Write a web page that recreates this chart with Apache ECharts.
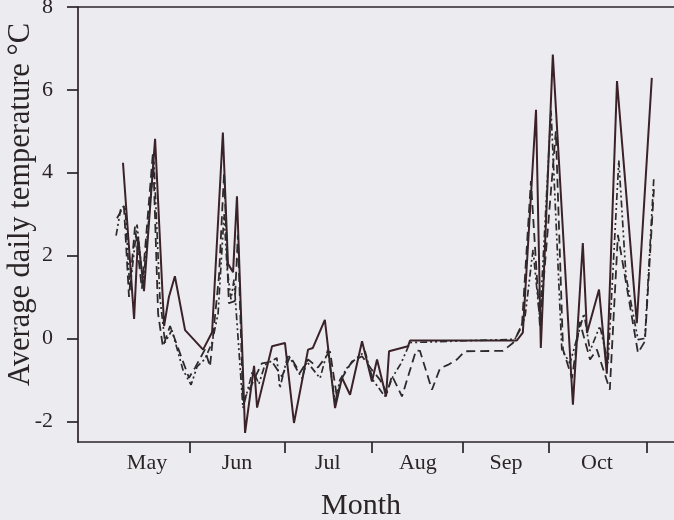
<!DOCTYPE html>
<html>
<head>
<meta charset="utf-8">
<script src="https://cdn.jsdelivr.net/npm/echarts@6/dist/echarts.min.js"></script>
<style>
html,body{margin:0;padding:0;background:#ececf0;}
#chart{width:674px;height:520px;}
</style>
</head>
<body>
<div id="chart"></div>
<script>
// x values: days since start of the plotted season
const monthNames = ['May','Jun','Jul','Aug','Sep','Oct'];
const monthCenters = [23, 53, 83.3, 113.3, 142.7, 173];
const monthBoundaries = [37.3, 69, 98, 128.3, 157, 189.7];
const yTicks = [-2, 0, 2, 4, 6, 8];

const solidDays = [15.0,18.7,20.0,22.0,25.7,28.7,30.3,32.3,35.7,41.7,44.7,48.3,50.0,51.7,53.0,55.7,58.7,59.7,64.7,69.0,72.0,76.7,78.3,82.3,85.7,88.0,90.7,94.7,98.0,99.7,102.7,103.7,110.0,110.7,146.3,148.3,152.7,154.3,158.3,165.0,168.3,169.7,173.7,176.3,179.7,186.3,191.3];
const solidTemps = [4.24,0.47,2.45,1.14,4.82,0.30,1.00,1.50,0.20,-0.27,0.15,4.97,1.80,1.60,3.43,-2.28,-0.66,-1.67,-0.19,-0.11,-2.04,-0.27,-0.23,0.45,-1.68,-0.95,-1.36,-0.07,-1.04,-0.51,-1.40,-0.31,-0.19,-0.05,-0.05,0.14,5.52,-0.23,6.85,-1.60,2.30,0.13,1.18,-0.85,6.21,0.37,6.29];

const dashDays = [13.0,15.3,17.0,19.0,21.3,25.0,26.7,28.3,30.7,34.7,37.0,39.0,42.3,44.0,47.0,48.7,50.0,50.3,52.3,53.3,55.0,56.7,59.3,61.3,64.7,68.0,70.7,74.0,76.7,80.0,84.0,86.3,88.3,91.3,94.7,98.0,100.7,103.0,104.7,108.0,112.7,114.0,118.0,120.7,123.3,126.3,129.0,141.7,145.0,148.0,151.0,154.0,159.3,161.7,164.7,167.3,170.7,173.0,177.3,180.0,186.7,189.0,192.0];
const dashTemps = [2.90,3.20,1.00,2.70,1.20,4.50,0.60,-0.20,0.30,-0.50,-0.95,-0.71,-0.27,-0.68,1.50,4.00,1.40,0.85,0.90,2.50,-1.50,-1.30,-0.90,-0.60,-0.56,-0.92,-0.43,-0.83,-0.51,-0.70,-0.31,-1.40,-0.92,-0.56,-0.43,-0.76,-1.00,-1.32,-0.90,-1.40,-0.29,-0.30,-1.24,-0.72,-0.64,-0.51,-0.31,-0.30,-0.11,0.30,3.80,0.30,5.00,-0.27,-0.96,0.40,-0.51,-0.27,-1.24,2.50,-0.35,-0.07,3.60];

const dashDotDays = [12.7,14.3,15.7,17.3,19.7,21.7,25.3,27.3,29.0,31.3,35.0,37.7,39.7,42.3,44.7,46.7,48.7,49.7,51.0,52.0,55.0,58.3,60.3,62.3,66.3,67.3,70.0,74.7,76.3,80.7,83.3,85.7,87.3,89.7,92.3,95.7,98.3,102.3,105.0,107.7,110.7,145.7,149.0,151.7,154.0,157.7,161.3,164.0,168.7,170.7,174.0,176.7,180.3,182.7,186.7,189.0,192.0];
const dashDotTemps = [2.48,3.15,3.20,1.17,2.75,1.30,4.30,1.00,-0.10,0.20,-0.76,-1.12,-0.68,-0.50,-0.10,0.60,3.00,1.70,0.94,1.42,-1.68,-0.76,-1.10,-0.64,-0.47,-1.20,-0.39,-0.96,-0.56,-0.96,-0.27,-1.56,-1.00,-0.71,-0.51,-0.31,-1.00,-1.40,-0.92,-0.60,-0.10,-0.02,0.50,2.14,0.45,5.50,-0.27,-0.60,0.60,-0.30,0.30,-0.60,4.30,1.50,-0.03,0.00,3.91];

const pairs = (xs, ys) => xs.map((x, i) => [x, ys[i]]);
const ink = '#2b2427';
const serif = 'Liberation Serif';

const chart = echarts.init(document.getElementById('chart'), null, {renderer: 'canvas'});
chart.setOption({
  backgroundColor: '#ececf0',
  animation: false,
  grid: {left: 78, right: 0, top: 7, bottom: 78, containLabel: false, outerBoundsMode: 'none'},
  xAxis: [{
    type: 'value', min: 0, max: 198.7, position: 'bottom',
    name: 'Month', nameLocation: 'middle', nameGap: 49, nameMoveOverlap: false,
    nameTextStyle: {fontFamily: serif, fontSize: 30, color: ink, padding: [0, 30, 0, 0]},
    axisLine: {show: true, onZero: false, lineStyle: {color: ink, width: 1.7}},
    axisTick: {show: true, length: 11, inside: false, customValues: monthBoundaries, lineStyle: {color: ink, width: 1.7}},
    axisLabel: {show: true, customValues: monthCenters, margin: 10, fontFamily: serif, fontSize: 22, color: ink,
      formatter: function (v) {
        let best = 0;
        monthCenters.forEach((c, i) => { if (Math.abs(c - v) < Math.abs(monthCenters[best] - v)) best = i; });
        return monthNames[best];
      }},
    splitLine: {show: false}
  }, {
    type: 'value', min: 0, max: 198.7, position: 'top',
    axisLine: {show: true, onZero: false, lineStyle: {color: ink, width: 1.7}},
    axisTick: {show: false}, axisLabel: {show: false}, splitLine: {show: false}
  }],
  yAxis: {
    type: 'value', min: -2.5, max: 8,
    name: 'Average daily temperature °C', nameLocation: 'middle', nameGap: 42, nameMoveOverlap: false,
    nameTextStyle: {fontFamily: serif, fontSize: 30.5, color: ink, padding: [0, 0, 0, 40]},
    axisLine: {show: true, onZero: false, lineStyle: {color: ink, width: 1.7}},
    axisTick: {show: true, length: 11, inside: false, customValues: yTicks, lineStyle: {color: ink, width: 1.7}},
    axisLabel: {show: true, customValues: yTicks, margin: 25, fontFamily: serif, fontSize: 22, color: ink},
    splitLine: {show: false}
  },
  series: [{
    name: 'solid', type: 'line', data: pairs(solidDays, solidTemps), showSymbol: false,
    lineStyle: {color: '#3a2228', width: 2, type: 'solid'}
  }, {
    name: 'dashed', type: 'line', data: pairs(dashDays, dashTemps), showSymbol: false,
    lineStyle: {color: '#2e2a2c', width: 1.8, type: [9, 5]}
  }, {
    name: 'dashdot', type: 'line', data: pairs(dashDotDays, dashDotTemps), showSymbol: false,
    lineStyle: {color: '#2e2a2c', width: 1.7, type: [7, 3, 2, 3, 2, 3]}
  }]
});
</script>
</body>
</html>
